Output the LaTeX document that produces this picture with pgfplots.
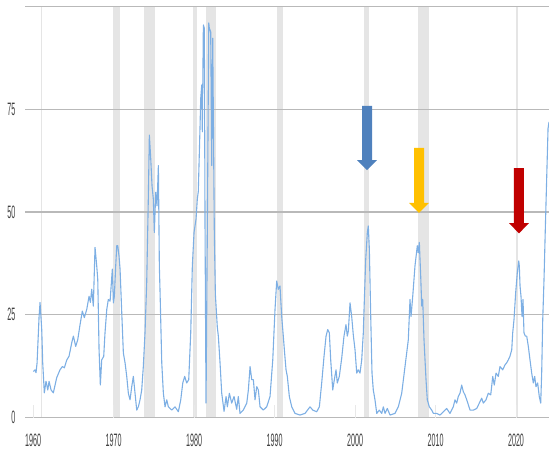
\documentclass[border=0pt]{standalone}
\usepackage{pgfplots}
\pgfplotsset{compat=1.18}
\usepackage{fontspec}
\setmainfont{Liberation Sans}
\newfontfamily\tickfont{Liberation Sans}[FakeStretch=0.4]
\definecolor{lineblue}{RGB}{125,175,228}
\definecolor{arrowblue}{HTML}{4F81BD}
\definecolor{arrowyellow}{HTML}{FFC000}
\definecolor{arrowred}{HTML}{C00000}
\begin{document}
\begin{tikzpicture}
\begin{axis}[
  set layers,
  scale only axis, width=524bp, height=411bp,
  at={(0,0)}, anchor=south west,
  xmin=1959.0, xmax=2024.1, ymin=0, ymax=100,
  axis line style={draw=none},
  ytick={0,25,50,75,100}, yticklabels={0,25,50,75,{}},
  xtick={1960,1970,1980,1990,2000,2010,2020},
  xticklabels={1960,1970,1980,1990,2000,2010,2020},
  ymajorgrids,
  major grid style={draw=gray!55, line width=1.2bp},
  tick label style={font=\tickfont\fontsize{18}{18}\selectfont, text=black!75},
  yticklabel style={inner sep=0pt, xshift=-9.5bp},
  xticklabel style={inner sep=0pt, yshift=-16bp},
  xtick pos=lower, ytick style={draw=none},
  tick align=inside, major tick length=12bp,
  xtick style={draw=gray!18, line width=1bp},
]
\begin{pgfonlayer}{axis background}
\fill[gray!20] (axis cs:1960.93,0) rectangle (axis cs:1961.12,100);
\fill[gray!20] (axis cs:1969.94,0) rectangle (axis cs:1970.81,100);
\fill[gray!20] (axis cs:1973.79,0) rectangle (axis cs:1975.16,100);
\fill[gray!20] (axis cs:1979.88,0) rectangle (axis cs:1980.37,100);
\fill[gray!20] (axis cs:1981.49,0) rectangle (axis cs:1982.73,100);
\fill[gray!20] (axis cs:1990.31,0) rectangle (axis cs:1991.06,100);
\fill[gray!20] (axis cs:2001.12,0) rectangle (axis cs:2001.74,100);
\fill[gray!20] (axis cs:2007.83,0) rectangle (axis cs:2009.19,100);
\fill[gray!20] (axis cs:2020.06,0) rectangle (axis cs:2020.25,100);
\end{pgfonlayer}
\addplot[lineblue, line width=1.1bp, line join=round] coordinates {
(1960.04,11.2) (1960.25,11.6) (1960.37,10.9) (1960.50,13.3) (1960.75,24.6) (1960.87,28.0)
(1961.08,21.4) (1961.20,13.3) (1961.40,6.0) (1961.61,8.8) (1961.83,6.7) (1961.99,8.8)
(1962.24,6.7) (1962.52,6.0) (1962.94,9.7) (1963.35,11.6) (1963.64,12.4) (1963.89,12.1)
(1964.19,14.0) (1964.47,14.9) (1964.81,18.2) (1965.01,19.8) (1965.30,17.3) (1965.55,18.9)
(1965.84,22.6) (1966.12,25.9) (1966.37,24.3) (1966.67,26.3) (1966.96,29.5) (1967.12,28.0)
(1967.29,31.2) (1967.49,27.1) (1967.70,41.4) (1967.91,36.9) (1968.04,33.6) (1968.20,16.5)
(1968.36,7.9) (1968.53,14.0) (1968.78,14.9) (1968.94,20.6) (1969.16,26.3) (1969.35,28.7)
(1969.57,28.3) (1969.85,36.1) (1969.98,27.9) (1970.10,29.5) (1970.27,36.9) (1970.40,41.8)
(1970.52,41.8) (1970.68,39.3) (1970.81,36.1) (1971.02,25.5) (1971.22,15.7) (1971.43,13.3)
(1971.64,10.0) (1971.84,5.9) (1972.05,4.3) (1972.26,7.5) (1972.46,10.0) (1972.67,5.9)
(1972.88,1.8) (1973.08,2.6) (1973.29,4.3) (1973.50,6.7) (1973.70,12.4) (1973.91,20.6)
(1974.12,32.8) (1974.32,53.2) (1974.45,68.7) (1974.62,63.0) (1974.78,56.4) (1974.94,53.2)
(1975.07,45.0) (1975.24,54.8) (1975.40,51.5) (1975.57,61.3) (1975.69,36.9) (1975.78,30.4)
(1975.99,13.3) (1976.19,5.9) (1976.40,2.6) (1976.61,4.3) (1976.81,2.6) (1977.23,1.8)
(1977.64,2.6) (1978.05,1.4) (1978.35,4.3) (1978.60,8.4) (1978.84,10.0) (1979.09,8.4)
(1979.34,9.2) (1979.59,20.6) (1979.79,36.9) (1980.00,45.0) (1980.25,48.3) (1980.41,53.2)
(1980.53,55.0) (1980.75,71.1) (1980.83,77.6) (1980.96,80.9) (1981.03,69.5) (1981.16,95.5)
(1981.28,94.7) (1981.37,45.0) (1981.49,3.5) (1981.65,45.0) (1981.83,96.0) (1981.90,94.7)
(1982.07,93.9) (1982.20,61.3) (1982.32,92.3) (1982.40,73.5) (1982.52,45.0) (1982.65,30.0)
(1982.89,22.0) (1983.02,19.8) (1983.23,13.3) (1983.44,5.9) (1983.73,1.5) (1983.98,5.1)
(1984.14,2.6) (1984.39,5.9) (1984.68,3.5) (1984.97,5.1) (1985.30,2.0) (1985.50,5.1)
(1985.71,1.0) (1986.12,1.8) (1986.55,3.5) (1986.75,6.7) (1986.96,12.4) (1987.17,9.2)
(1987.37,9.2) (1987.58,4.3) (1987.79,7.5) (1987.99,6.7) (1988.20,2.6) (1988.61,1.8)
(1989.03,2.6) (1989.44,5.1) (1989.78,14.0) (1990.06,26.3) (1990.27,33.2) (1990.47,31.2)
(1990.68,32.0) (1990.89,24.6) (1991.09,19.8) (1991.22,16.5) (1991.43,11.6) (1991.59,10.0)
(1991.84,5.1) (1992.14,2.6) (1992.55,1.0) (1993.17,0.6) (1993.79,1.0) (1994.41,2.6)
(1994.75,1.8) (1995.24,1.4) (1995.57,2.6) (1995.86,8.4) (1996.15,14.9) (1996.40,19.8)
(1996.61,21.4) (1996.81,20.6) (1996.98,14.0) (1997.23,6.7) (1997.43,9.2) (1997.64,11.6)
(1997.80,8.4) (1998.05,10.0) (1998.35,14.5) (1998.63,19.8) (1998.88,22.6) (1999.04,19.8)
(1999.17,21.0) (1999.38,27.9) (1999.59,24.5) (1999.79,20.0) (2000.00,16.5) (2000.21,10.8)
(2000.41,11.6) (2000.62,10.8) (2000.83,14.0) (2001.03,20.6) (2001.12,26.3) (2001.33,38.5)
(2001.53,45.0) (2001.65,46.6) (2001.78,41.0) (2001.95,24.6) (2002.11,10.8) (2002.27,6.7)
(2002.48,4.3) (2002.70,1.0) (2003.02,1.8) (2003.32,1.0) (2003.52,2.6) (2003.73,1.0)
(2004.01,2.2) (2004.35,0.6) (2004.97,1.0) (2005.38,2.6) (2005.80,5.9) (2006.21,12.4)
(2006.62,18.9) (2006.83,28.7) (2006.96,24.6) (2007.17,29.5) (2007.45,36.9) (2007.74,41.8)
(2007.86,40.1) (2007.99,42.6) (2008.16,34.4) (2008.29,27.1) (2008.41,28.7) (2008.57,18.9)
(2008.82,9.2) (2008.98,4.3) (2009.23,2.6) (2009.53,1.8) (2009.73,1.0) (2010.15,1.0)
(2010.56,0.6) (2010.97,1.4) (2011.39,2.2) (2011.80,1.0) (2012.21,2.6) (2012.42,4.3)
(2012.63,3.5) (2012.83,5.1) (2013.04,5.9) (2013.25,7.9) (2013.45,6.3) (2013.66,5.5)
(2013.88,4.3) (2014.29,1.8) (2014.70,1.8) (2015.12,2.2) (2015.44,3.5) (2015.74,4.7)
(2015.94,3.5) (2016.27,4.3) (2016.56,5.9) (2016.86,5.5) (2017.11,10.0) (2017.30,7.9)
(2017.52,10.8) (2017.80,10.0) (2018.01,12.4) (2018.35,11.6) (2018.63,12.8) (2018.84,13.3)
(2019.04,14.0) (2019.25,14.9) (2019.47,16.5) (2019.59,20.6) (2019.75,23.8) (2019.96,30.4)
(2020.16,35.2) (2020.34,38.1) (2020.41,36.9) (2020.50,32.0) (2020.62,29.5) (2020.75,24.6)
(2020.87,28.7) (2020.99,20.6) (2021.16,19.8) (2021.33,19.8) (2021.53,17.3) (2021.74,14.0)
(2021.95,10.8) (2022.15,8.4) (2022.32,10.0) (2022.48,7.5) (2022.69,8.4) (2022.89,5.1)
(2023.07,3.5) (2023.19,10.8) (2023.32,23.8) (2023.48,33.6) (2023.64,45.8) (2023.81,58.1)
(2023.98,70.3) (2024.10,71.9)
};
\fill[arrowblue] (axis cs:2000.87,75.8) -- (axis cs:2002.11,75.8) -- (axis cs:2002.11,62.6)
  -- (axis cs:2002.73,62.6) -- (axis cs:2001.49,60.2) -- (axis cs:2000.25,62.6)
  -- (axis cs:2000.87,62.6) -- cycle;
\fill[arrowyellow] (axis cs:2007.33,65.6) -- (axis cs:2008.57,65.6) -- (axis cs:2008.57,52.2)
  -- (axis cs:2009.19,52.2) -- (axis cs:2007.95,49.8) -- (axis cs:2006.71,52.2)
  -- (axis cs:2007.33,52.2) -- cycle;
\fill[arrowred] (axis cs:2019.75,60.7) -- (axis cs:2020.99,60.7) -- (axis cs:2020.99,47.3)
  -- (axis cs:2021.61,47.3) -- (axis cs:2020.37,44.8) -- (axis cs:2019.13,47.3)
  -- (axis cs:2019.75,47.3) -- cycle;
\end{axis}
\pgfresetboundingbox
\path (-25bp,-39.5bp) rectangle (524bp,417.5bp);
\end{tikzpicture}
\end{document}
